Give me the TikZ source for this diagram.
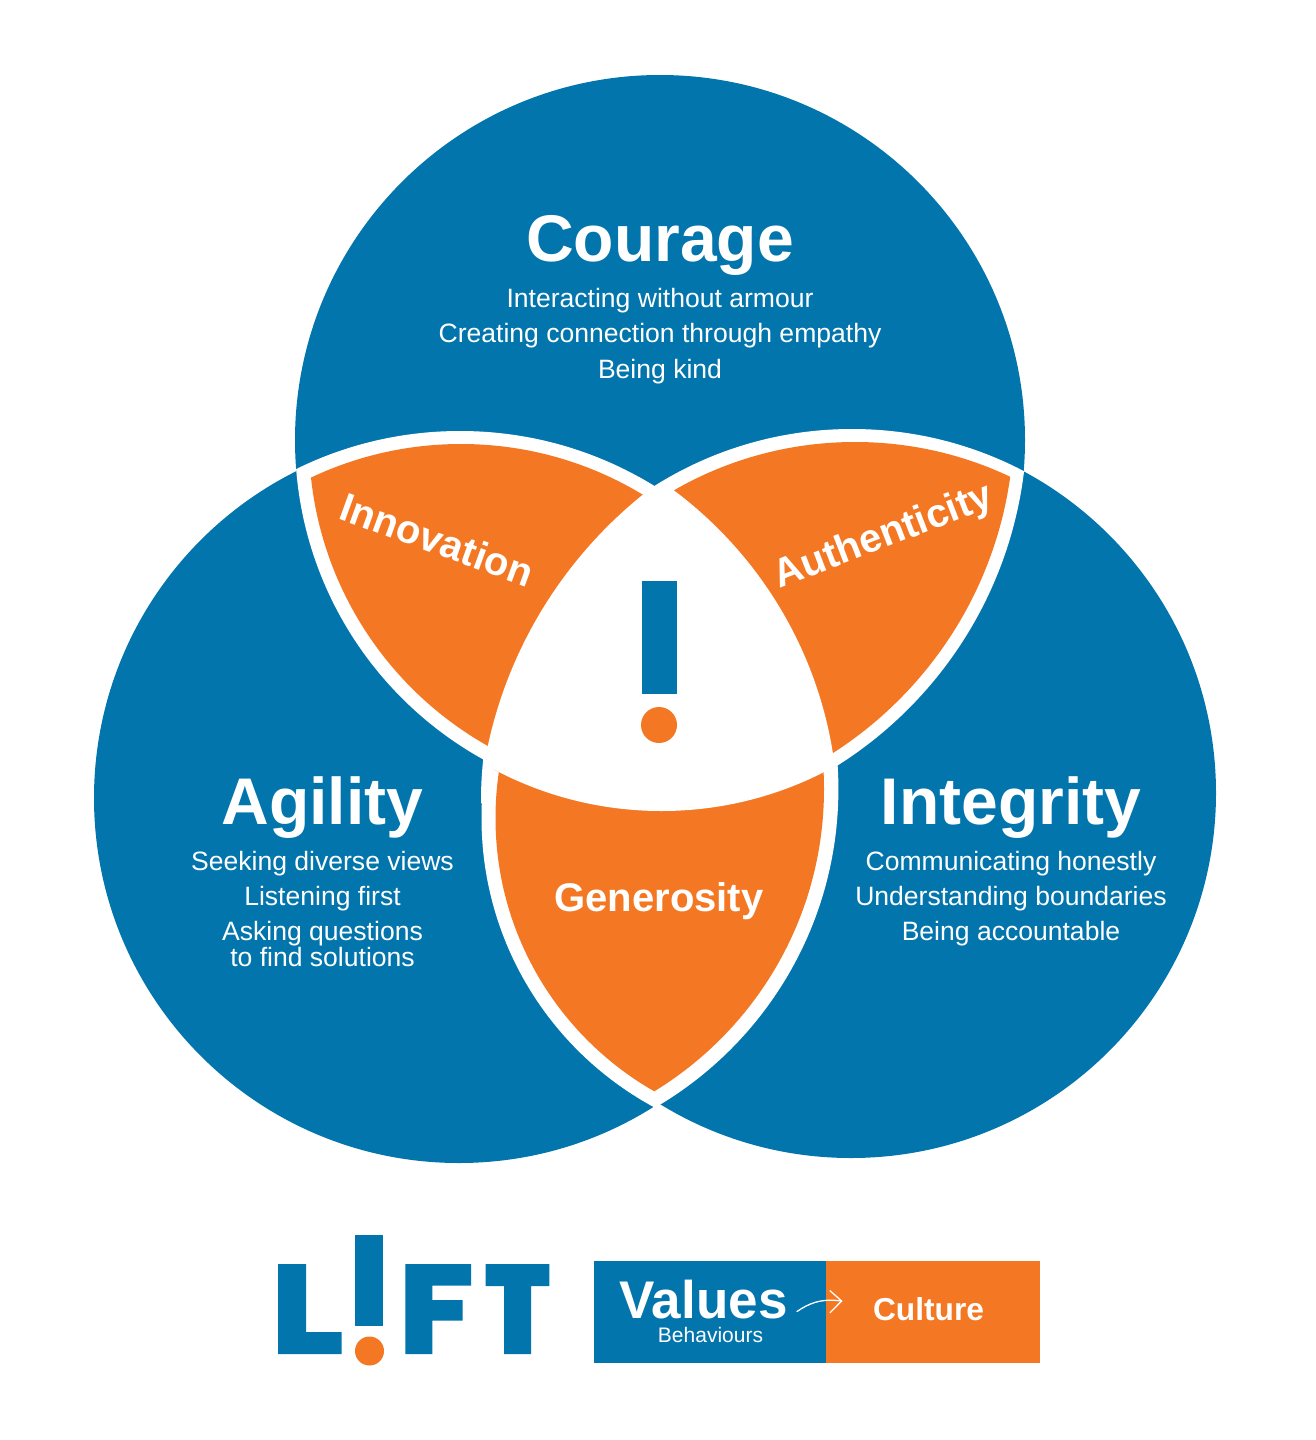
\documentclass[tikz,border=0pt]{standalone}
\usepackage{fontspec}
\setmainfont{Liberation Sans}
\definecolor{liftblue}{RGB}{3,117,173}
\definecolor{liftorange}{RGB}{244,120,35}
\newcommand{\fsz}[1]{\fontsize{#1}{#1}\selectfont}
\tikzset{
  lab/.style={text=white,inner sep=0pt,anchor=base},
  headline/.style={lab,font=\bfseries\fsz{66}},
  bodyline/.style={lab,font=\fsz{26.55}},
  petal/.style={lab,font=\bfseries\fsz{40}},
  thinarrow/.style={draw=white,line width=1.3pt,line cap=round,line join=round}
}
\begin{document}
\begin{tikzpicture}[x=1pt,y=-1pt]
\useasboundingbox (0,0) rectangle (1315,1440);
\fill[white] (0,0) rectangle (1315,1440);
% three circles
\fill[liftblue] (660,440) circle [radius=365];
\fill[liftblue] (459,798) circle [radius=365];
\fill[liftblue] (851,793) circle [radius=365];
% white bands
\begin{scope}\clip (460,802) circle [radius=371];\fill[white] (660,440) circle [radius=365];\end{scope}
\begin{scope}\clip (852,800) circle [radius=371];\fill[white] (621,422) circle [radius=406];\end{scope}
\begin{scope}\clip (810,818) circle [radius=328.5];\fill[white] (470,789) circle [radius=368.4];\end{scope}
% orange petals
\begin{scope}\clip (661.5,453) circle [radius=358];\clip (461,795) circle [radius=351];\fill[liftorange] (660,440) circle [radius=351];\end{scope}
\begin{scope}\clip (661.5,453) circle [radius=358];\clip (855,805) circle [radius=363];\fill[liftorange] (621,422) circle [radius=393];\end{scope}
\begin{scope}\clip (810,818) circle [radius=314.5];\fill[liftorange] (470,789) circle [radius=354];\end{scope}
% white centre
\begin{scope}\clip (400,486) rectangle (900,900);\clip (920,839) circle [radius=442];\clip (429,818) circle [radius=409];\fill[white] (661.5,453) circle [radius=358];\end{scope}
% exclamation
\fill[liftblue] (642,581) rectangle (677,694);
\fill[liftorange] (659,725) circle [radius=18];
% heading texts
\node[headline] (courage) at (660,261) {Courage};
\node[bodyline] (c1) at (660,307) {Interacting without armour};
\node[bodyline] (c2) at (660,342) {Creating connection through empathy};
\node[bodyline] (c3) at (660,378) {Being kind};
\node[headline] (agility) at (322.5,824.5) {Agility};
\node[bodyline] (a1) at (322.5,870) {Seeking diverse views};
\node[bodyline] (a2) at (322.5,905) {Listening first};
\node[bodyline] (a3) at (322.5,940) {Asking questions};
\node[bodyline] (a4) at (322.5,966) {to find solutions};
\node[headline] (integrity) at (1011,824.5) {Integrity};
\node[bodyline] (i1) at (1011,870) {Communicating honestly};
\node[bodyline] (i2) at (1011,905) {Understanding boundaries};
\node[bodyline] (i3) at (1011,940) {Being accountable};
\node[petal,rotate=-20] (innovation) at (432.5,553) {Innovation};
\node[petal,rotate=21] (authenticity) at (887.5,547) {Authenticity};
\node[petal] (generosity) at (659,911) {Generosity};
% logo
\fill[liftblue] (278,1264) -- (306,1264) -- (306,1332) -- (341.6,1332) -- (341.6,1354) -- (278,1354) -- cycle;
\fill[liftblue] (355.4,1235) rectangle (383,1326);
\fill[liftorange] (369.5,1351) circle [radius=14.5];
\fill[liftblue] (405.4,1264) -- (471,1264) -- (471,1285.7) -- (432.4,1285.7) -- (432.4,1300) -- (462.5,1300) -- (462.5,1320.7) -- (432.4,1320.7) -- (432.4,1354) -- (405.4,1354) -- cycle;
\fill[liftblue] (485.5,1264) -- (549.3,1264) -- (549.3,1286) -- (531,1286) -- (531,1354) -- (504,1354) -- (504,1286) -- (485.5,1286) -- cycle;
% values box
\fill[liftblue] (594,1260.7) rectangle (825.5,1362.7);
\fill[liftorange] (825.5,1260.7) rectangle (1040,1362.7);
\node[lab,font=\bfseries\fsz{53}] (values) at (703.5,1318) {Values};
\node[lab,font=\fsz{21}] (behaviours) at (710.5,1342.7) {Behaviours};
\node[lab,font=\bfseries\fsz{31.7}] (culture) at (928.5,1320.7) {Culture};
% arrow
\coordinate (arrowstart) at (797,1311.5);
\coordinate (arrowtip) at (841.6,1301);
\coordinate (headtop) at (830,1290.7);
\coordinate (headbot) at (830,1312.7);
\draw[thinarrow] (arrowstart) .. controls (808,1304) and (820,1298) .. (arrowtip);
\draw[thinarrow] (headtop) -- (arrowtip) -- (headbot);
\end{tikzpicture}
\end{document}
